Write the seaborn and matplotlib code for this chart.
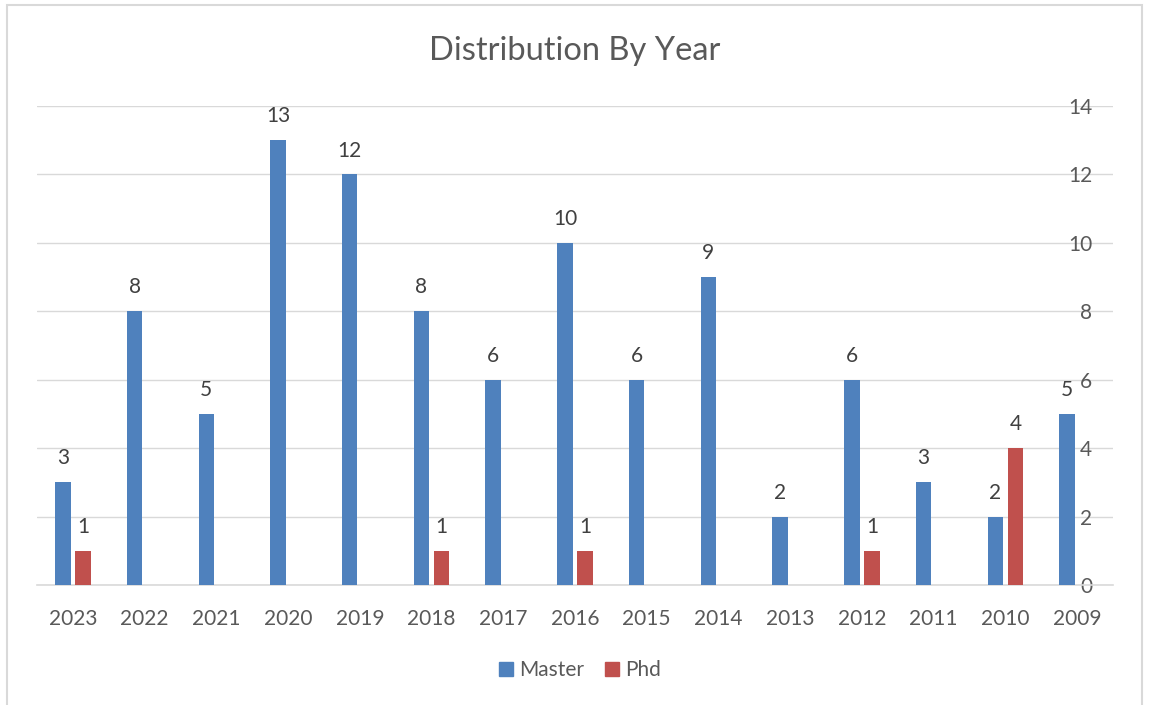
import matplotlib
matplotlib.use("Agg")
import matplotlib.pyplot as plt
import matplotlib.patches as mpatches
import pandas as pd
import seaborn as sns

years = ["2023", "2022", "2021", "2020", "2019", "2018", "2017", "2016",
         "2015", "2014", "2013", "2012", "2011", "2010", "2009"]
master = [3, 8, 5, 13, 12, 8, 6, 10, 6, 9, 2, 6, 3, 2, 5]
phd = [1, 0, 0, 0, 0, 1, 0, 1, 0, 0, 0, 1, 0, 4, 0]
degrees = ["Master", "Phd"]
y_ticks = [0, 2, 4, 6, 8, 10, 12, 14]

BLUE = "#4F81BD"
RED = "#C0504D"
TEXT = "#595959"
LABEL = "#404040"
GRID = "#D9D9D9"

df = pd.DataFrame({
    "Year": years * 2,
    "Count": master + phd,
    "Degree": [degrees[0]] * len(years) + [degrees[1]] * len(years),
})

sns.set_theme(style="white")
plt.rcParams["font.family"] = ["Lato", "DejaVu Sans"]

fig = plt.figure(figsize=(11.5, 7.05), dpi=100)
ax = fig.add_axes([37 / 1150, 120 / 705, (1113 - 37) / 1150, (585 - 106) / 705])

sns.barplot(data=df, x="Year", y="Count", hue="Degree", order=years,
            hue_order=degrees, palette=[BLUE, RED], width=0.56, gap=0.23,
            linewidth=0, saturation=1, ax=ax, legend=False, zorder=3)

# value labels above the non-zero bars
for container in ax.containers:
    vals = container.datavalues
    ax.bar_label(container, labels=[f"{v:g}" if v > 0 else "" for v in vals],
                 padding=10, fontsize=15, color=LABEL)

ax.set_xlim(-0.5, len(years) - 0.5)
ax.set_ylim(0, 14)
ax.set_xlabel("")
ax.set_ylabel("")

ax.yaxis.tick_right()
ax.set_yticks(y_ticks)
ax.set_yticklabels([str(t) for t in y_ticks], ha="right")
ax.tick_params(axis="y", length=0, pad=-15, labelsize=15, labelcolor=TEXT)
ax.tick_params(axis="x", length=0, pad=17, labelsize=15, labelcolor=TEXT)

ax.yaxis.grid(True, color=GRID, linewidth=1)
ax.set_axisbelow(True)
for side in ["top", "right", "left"]:
    ax.spines[side].set_visible(False)
ax.spines["bottom"].set_color(GRID)
ax.spines["bottom"].set_linewidth(1.2)

fig.text(575 / 1150, 1 - 51 / 705, "Distribution By Year", ha="center",
         va="center", fontsize=23.5, color=TEXT)

handles = [mpatches.Patch(color=BLUE, label=degrees[0]),
           mpatches.Patch(color=RED, label=degrees[1])]
fig.legend(handles=handles, loc="center", bbox_to_anchor=(580 / 1150, 1 - 670 / 705),
           ncol=2, frameon=False, fontsize=15, labelcolor=TEXT,
           handlelength=0.65, handleheight=0.65, handletextpad=0.3,
           columnspacing=1.0)

# chart frame
fig.patches.append(mpatches.Rectangle((7 / 1150, -0.01), (1142 - 7) / 1150, 1 - 5 / 705 + 0.01,
                                      transform=fig.transFigure, fill=False,
                                      edgecolor=GRID, linewidth=1.5))

fig.savefig("out.png", dpi=100, facecolor="white")
